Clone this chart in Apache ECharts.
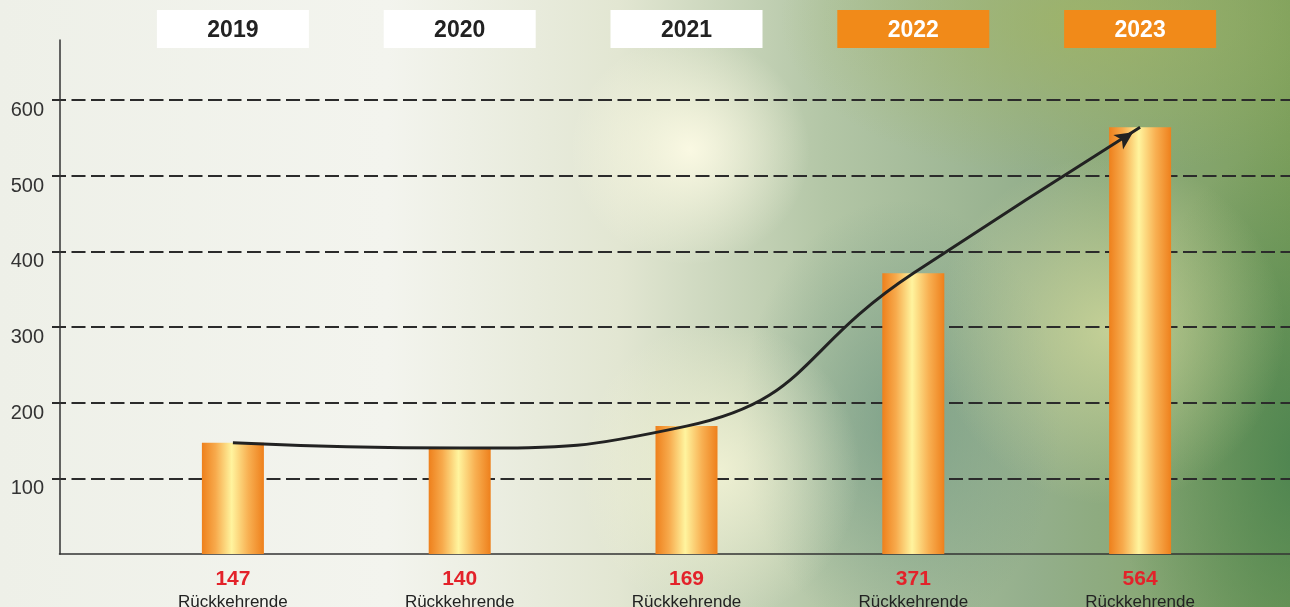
<!DOCTYPE html>
<html>
<head>
<meta charset="utf-8">
<script src="https://cdn.jsdelivr.net/npm/echarts@6/dist/echarts.min.js"></script>
<style>
html,body{margin:0;padding:0;}
#chart{
  width:1290px;height:607px;
  background:
   radial-gradient(ellipse 120px 115px at 690px 150px, rgba(252,250,228,0.95), rgba(252,250,228,0) 100%),
   radial-gradient(ellipse 140px 150px at 720px 470px, rgba(244,244,214,0.85), rgba(244,244,214,0) 100%),
   radial-gradient(ellipse 175px 175px at 1110px 330px, rgba(214,220,158,0.75), rgba(214,220,158,0) 100%),
   radial-gradient(ellipse 300px 160px at 1080px 20px, rgba(160,180,100,0.8), rgba(160,180,100,0) 100%),
   radial-gradient(ellipse 180px 320px at 1300px 460px, rgba(70,128,78,0.85), rgba(70,128,78,0) 100%),
   radial-gradient(ellipse 160px 220px at 900px 420px, rgba(110,150,130,0.7), rgba(110,150,130,0) 100%),
   linear-gradient(90deg, #eef0e8 0%, #f3f4ee 30%, #e2e6d2 48%, #b3c6a6 64%, #94af8c 80%, #7c9f5c 100%);
}
</style>
</head>
<body>
<div id="chart"></div>
<script>
var years = ['2019', '2020', '2021', '2022', '2023'];
var values = [147, 140, 169, 371, 564];
var highlighted = [false, false, false, true, true];
var unitLabel = 'Rückkehrende';
var yTicks = [0, 100, 200, 300, 400, 500, 600];

var chart = echarts.init(document.getElementById('chart'), null, {renderer: 'canvas'});
var FONT = '"Liberation Sans", Arial, sans-serif';

var barGradient = {
  type: 'linear', x: 0, y: 0, x2: 1, y2: 0,
  colorStops: [
    {offset: 0, color: '#ee801c'},
    {offset: 0.22, color: '#f7aa4c'},
    {offset: 0.48, color: '#fff49e'},
    {offset: 0.75, color: '#f8b052'},
    {offset: 1, color: '#ee801c'}
  ]
};

var lineData = values.map(function (v, i) {
  if (i === values.length - 1) {
    return {value: v, symbol: 'arrow', symbolSize: [13, 18], symbolRotate: -56, symbolOffset: [-7, 5],
      itemStyle: {color: '#222', opacity: 1}};
  }
  return {value: v, symbol: 'none'};
});

var gridBase = {containLabel: false, outerBoundsMode: 'none'};
function mkGrid(o) { return Object.assign({}, gridBase, o); }

var option = {
  animation: false,
  grid: [
    mkGrid({left: 119.5, right: 36.5, top: 100, bottom: 53}),
    mkGrid({left: 52, right: 0, top: 100, bottom: 53}),
    mkGrid({left: 59.5, right: 0, top: 40, bottom: 53})
  ],
  xAxis: [
    {
      type: 'category', gridIndex: 0, data: years, position: 'bottom',
      axisLine: {show: false}, axisTick: {show: false},
      axisLabel: {
        margin: 14, interval: 0,
        formatter: function (val, idx) { return '{v|' + values[idx] + '}\n{u|' + unitLabel + '}'; },
        rich: {
          v: {fontFamily: FONT, fontSize: 21, fontWeight: 'bold', color: '#e3222a', lineHeight: 23, align: 'center'},
          u: {fontFamily: FONT, fontSize: 17, color: '#222', lineHeight: 23, align: 'center'}
        }
      }
    },
    {
      type: 'category', gridIndex: 0, data: years, position: 'top',
      axisLine: {show: false}, axisTick: {show: false},
      axisLabel: {
        margin: 54, interval: 0,
        formatter: function (val, idx) { return (highlighted[idx] ? '{o|' : '{w|') + val + '}'; },
        rich: {
          w: {fontFamily: FONT, fontSize: 23, fontWeight: 'bold', color: '#222', backgroundColor: '#ffffff',
              width: 152, height: 34, lineHeight: 34, padding: [4, 0, 0, 0], align: 'center'},
          o: {fontFamily: FONT, fontSize: 23, fontWeight: 'bold', color: '#ffffff', backgroundColor: '#f18a19',
              width: 152, height: 34, lineHeight: 34, padding: [4, 0, 0, 0], align: 'center'}
        }
      }
    },
    {type: 'value', gridIndex: 1, show: false, min: 0, max: 1},
    {
      type: 'value', gridIndex: 2, min: 0, max: 1,
      axisLine: {show: true, lineStyle: {color: '#333', width: 1.5}},
      axisTick: {show: false}, axisLabel: {show: false}, splitLine: {show: false}
    }
  ],
  yAxis: [
    {type: 'value', gridIndex: 0, min: 0, max: 600, show: false},
    {
      type: 'value', gridIndex: 1, min: yTicks[0], max: yTicks[yTicks.length - 1], interval: 100,
      axisLine: {show: false}, axisTick: {show: false},
      axisLabel: {
        show: true, margin: 8, fontFamily: FONT, fontSize: 20, color: '#333',
        verticalAlign: 'top', lineHeight: 21, showMinLabel: false
      },
      splitLine: {show: true, showMinLine: false, lineStyle: {color: '#2b2b2b', width: 1.8, type: [14, 5.5]}}
    },
    {
      type: 'value', gridIndex: 2, min: 0, max: 679,
      axisLine: {show: true, lineStyle: {color: '#333', width: 1.5}},
      axisTick: {show: false}, axisLabel: {show: false}, splitLine: {show: false}
    }
  ],
  series: [
    {
      type: 'bar', xAxisIndex: 0, yAxisIndex: 0, data: values, barWidth: 62,
      itemStyle: {color: barGradient}, z: 2
    },
    {
      type: 'line', xAxisIndex: 0, yAxisIndex: 0, data: lineData, smooth: 0.5,
      showSymbol: true, lineStyle: {color: '#222', width: 3}, itemStyle: {color: '#222'}, z: 5
    }
  ]
};
chart.setOption(option);
</script>
</body>
</html>
